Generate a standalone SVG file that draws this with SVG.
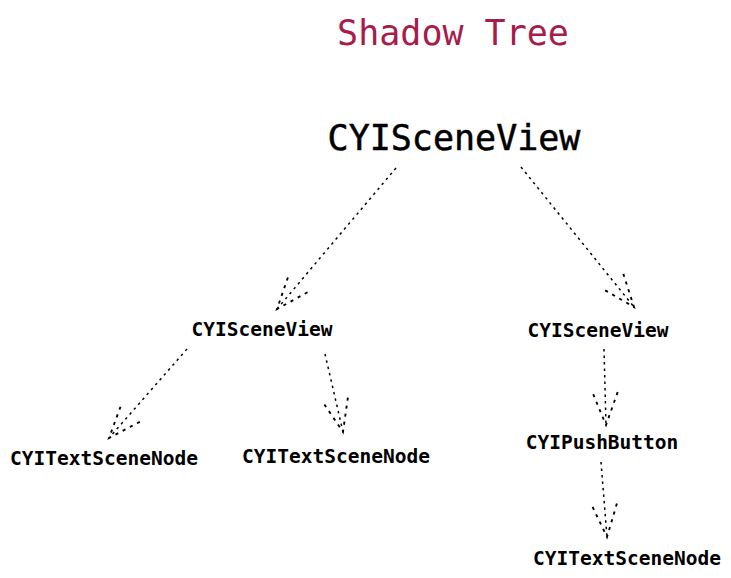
<svg xmlns="http://www.w3.org/2000/svg" width="731" height="578" viewBox="0 0 731 578">
<style>
text{font-family:"DejaVu Sans Mono","Liberation Mono",monospace;text-anchor:middle;fill:#000}
.title{font-size:35px;fill:#a61c4b}
.big{font-size:35px}
.lbl{font-size:19.5px;font-weight:bold}
.c{fill:none;stroke:#000;stroke-width:1.5;stroke-dasharray:2.5 4}
</style>
<defs>
<marker id="ah" markerUnits="userSpaceOnUse" orient="auto" markerWidth="40" markerHeight="40" refX="0" refY="0" viewBox="-30 -15 32 30" overflow="visible">
<path class="c" d="M-26,-10 L0,0 L-26,10"/>
</marker>
</defs>
<rect width="731" height="578" fill="#fff"/>
<text class="title" x="453" y="45">Shadow Tree</text>
<g id="connectors">
<line class="c" x1="396" y1="168" x2="277" y2="309" marker-end="url(#ah)"/>
<line class="c" x1="521" y1="167" x2="634" y2="307" marker-end="url(#ah)"/>
<line class="c" x1="187" y1="349" x2="109" y2="438" marker-end="url(#ah)"/>
<line class="c" x1="325" y1="354" x2="343" y2="432" marker-end="url(#ah)"/>
<line class="c" x1="604" y1="349" x2="606" y2="425" marker-end="url(#ah)"/>
<line class="c" x1="601" y1="462" x2="607" y2="537" marker-end="url(#ah)"/>
</g>
<g id="root"><text class="big" x="454" y="150" stroke="#000" stroke-width="0.5">CYISceneView</text></g>
<g id="left"><text class="lbl" x="262" y="336">CYISceneView</text></g>
<g id="right"><text class="lbl" x="598" y="337">CYISceneView</text></g>
<g id="textnode1"><text class="lbl" x="104" y="465">CYITextSceneNode</text></g>
<g id="textnode2"><text class="lbl" x="336" y="463">CYITextSceneNode</text></g>
<g id="pushbutton"><text class="lbl" x="602" y="449">CYIPushButton</text></g>
<g id="textnode3"><text class="lbl" x="627" y="565">CYITextSceneNode</text></g>
</svg>
